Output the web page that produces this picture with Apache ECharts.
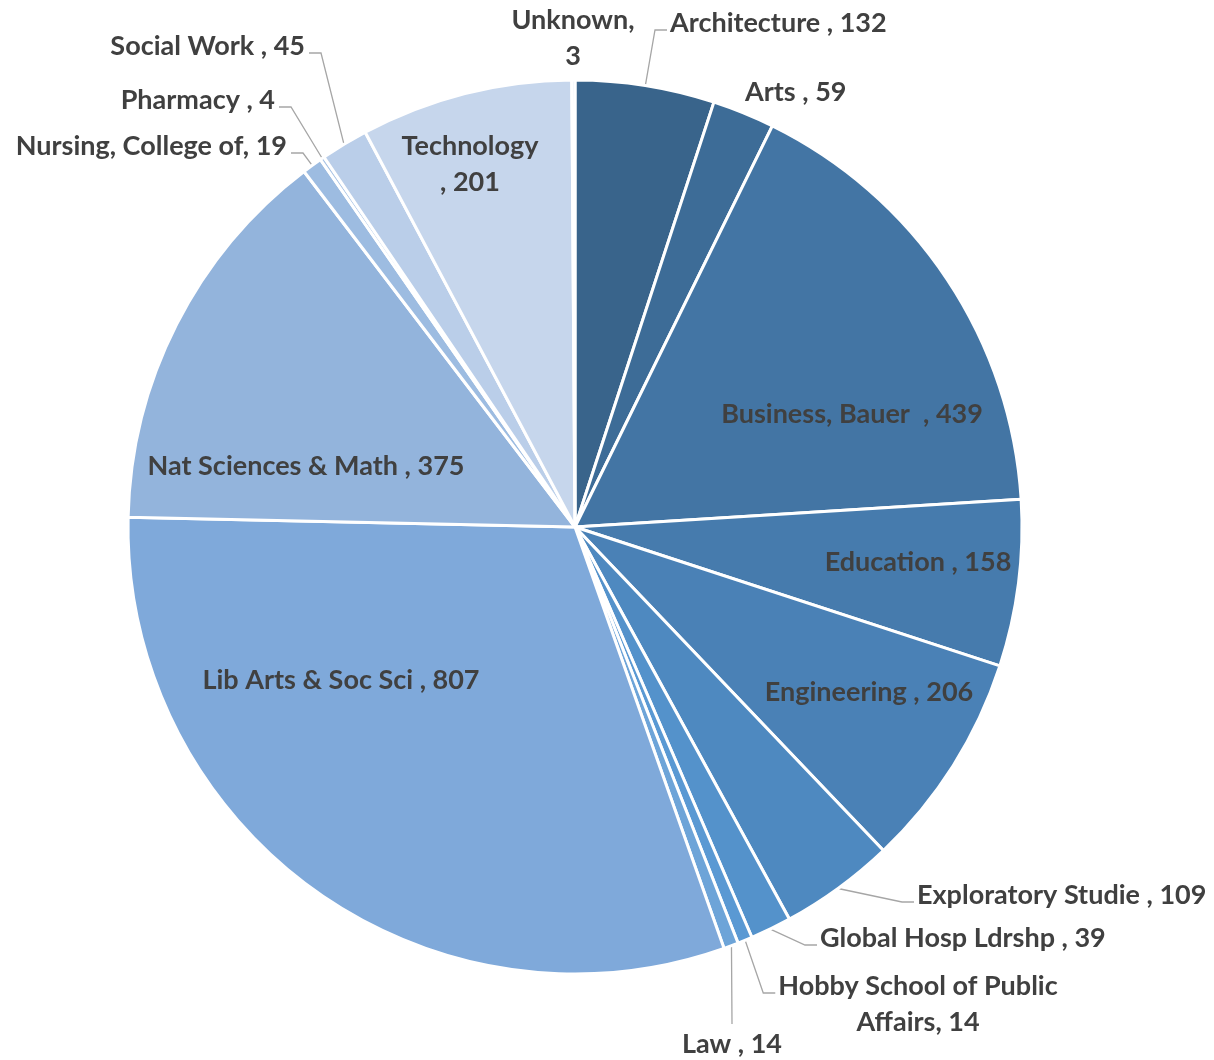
<!DOCTYPE html>
<html><head><meta charset="utf-8">
<script src="https://cdn.jsdelivr.net/npm/echarts@6/dist/echarts.min.js"></script>
<style>html,body{margin:0;padding:0;background:#fff}#c{width:1214px;height:1060px}</style>
</head><body><div id="c"></div>
<script>
// ---- data ----
const categories = ["Architecture ", "Arts ", "Business, Bauer  ", "Education ", "Engineering ",
  "Exploratory Studie ", "Global Hosp Ldrshp ", "Hobby School of Public Affairs", "Law ",
  "Lib Arts & Soc Sci ", "Nat Sciences & Math ", "Nursing, College of", "Pharmacy ",
  "Social Work ", "Technology ", "Unknown"];
const values = [132, 59, 439, 158, 206, 109, 39, 14, 14, 807, 375, 19, 4, 45, 201, 3];

// ---- styles ----
const colors = ["#39648B", "#3D6C97", "#4375A4", "#467BAD", "#4A81B6", "#4E89C0", "#5492CB",
  "#5A99D3", "#6DA4D8", "#7FA9DA", "#93B4DC", "#9DBCE1", "#A8C3E5", "#BACEE9", "#C6D6EC", "#CDDAEE"];
// label placement relative to pie centre (px); line: where the leader line attaches
const placement = [
  {dx: 95, dy: -504, align: 'left', line: 'left'},      // Architecture
  {dx: 170, dy: -435, align: 'left'},                   // Arts
  {dx: 277, dy: -113, align: 'center', inside: true},   // Business
  {dx: 343, dy: 35, align: 'center', inside: true},     // Education
  {dx: 294, dy: 165, align: 'center', inside: true},    // Engineering
  {dx: 342, dy: 368, align: 'left', line: 'left'},      // Exploratory
  {dx: 245, dy: 411, align: 'left', line: 'left'},      // Global Hosp
  {dx: 343, dy: 477, align: 'center', line: 'cleft', lineDy: -11, brk: 'Public'}, // Hobby
  {dx: 157, dy: 517, align: 'center', line: 'top'},     // Law
  {dx: -234, dy: 153, align: 'center', inside: true},   // Lib Arts
  {dx: -269, dy: -61, align: 'center', inside: true},   // Nat Sci
  {dx: -288, dy: -381, align: 'right', line: 'right'},  // Nursing
  {dx: -300, dy: -427, align: 'right', line: 'right'},  // Pharmacy
  {dx: -270, dy: -481, align: 'right', line: 'right'},  // Social Work
  {dx: -105, dy: -363, align: 'center', inside: true, brk: 'Technology'}, // Technology
  {dx: -2, dy: -489, align: 'center', brk: 'Unknown,'}  // Unknown
];
const CX = 575, CY = 527, R = 447;

const total = values.reduce((a, b) => a + b, 0);
const midAngles = [];
{ let cum = 0; values.forEach(v => { midAngles.push((cum + v / 2) / total * 2 * Math.PI); cum += v; }); }

function labelText(i) {
  const p = placement[i];
  let t = categories[i] + ', ' + values[i];
  if (p.brk) {
    const k = t.indexOf(p.brk) + p.brk.length;
    t = t.slice(0, k).trim() + '\n' + t.slice(k).trim();
  }
  return t;
}

const data = categories.map((c, i) => ({
  name: c, value: values[i],
  itemStyle: {color: colors[i]},
  label: {position: placement[i].inside ? 'inside' : 'outside'},
  labelLine: {show: !!placement[i].line}
}));

const chart = echarts.init(document.getElementById('c'), null, {renderer: 'canvas'});
chart.setOption({
  animation: false,
  series: [{
    type: 'pie',
    center: [CX, CY],
    radius: R,
    startAngle: 90,
    clockwise: true,
    avoidLabelOverlap: false,
    data: data,
    itemStyle: {borderColor: '#ffffff', borderWidth: 3},
    label: {
      show: true,
      formatter: p => labelText(p.dataIndex),
      color: '#404040',
      fontFamily: 'Lato',
      fontWeight: 'bold',
      fontSize: 27,
      lineHeight: 36
    },
    labelLine: {lineStyle: {color: '#A6A6A6', width: 1.3}, length: 10, length2: 10},
    labelLayout: function (params) {
      const i = params.dataIndex;
      const p = placement[i];
      const x = CX + p.dx, y = CY + p.dy;
      const res = {x: x, y: y, align: p.align, verticalAlign: 'middle'};
      if (p.line) {
        const a = midAngles[i];
        const s = [CX + (R + 1) * Math.sin(a), CY - (R + 1) * Math.cos(a)];
        const w = params.labelRect.width, h = params.labelRect.height;
        const ly = y + (p.lineDy != null ? p.lineDy : 7);
        let e, m;
        if (p.line === 'left') { e = [x - 3, ly]; m = [e[0] - 12, ly]; }
        else if (p.line === 'right') { e = [x + 4, ly]; m = [e[0] + 12, ly]; }
        else if (p.line === 'cleft') { e = [x - w / 2 - 3, ly]; m = [e[0] - 12, ly]; }
        else { e = [x, y - h / 2 - 2]; m = [(s[0] + e[0]) / 2, (s[1] + e[1]) / 2]; }
        res.labelLinePoints = [s, m, e];
      }
      return res;
    }
  }]
});
</script>
</body></html>
